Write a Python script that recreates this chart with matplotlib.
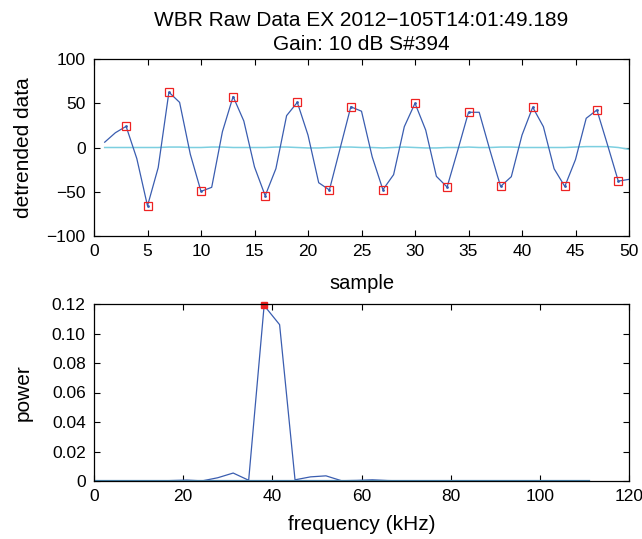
import matplotlib
matplotlib.use("Agg")
import matplotlib.pyplot as plt
import numpy as np

plt.rcParams['font.family'] = ['Liberation Sans', 'DejaVu Sans']

# ---- data ----
samples = list(range(1, 51))
detrended = [6, 16.7, 23.9, -12.5, -66, -22.7, 62.5, 51, -7.6, -49.6,
             -45, 17.8, 57.6, 30, -22, -54.5, -23.9, 36, 51, 14,
             -39.8, -48, -1, 46, 41, -10.6, -47.7, -30.7, 23.5, 50,
             19.7, -32.6, -44.7, -3, 39.8, 39.8, -3, -44, -33, 14,
             45.5, 23.5, -24, -44, -13.6, 33, 42.4, 2.7, -38, -36]
baseline = [0, 0, 0, 0, 0, 0, 0.5, 0.5, 0, 0,
            0.5, 0.5, 0, 0, 0, 0, 0.5, 0.5, 0, -0.5,
            -0.5, 0, 0.5, 0.5, 0, 0, -0.5, 0, 0.5, 0,
            -0.5, -0.5, 0, 0, 0.5, 0, 0, 0.5, 0.5, 0,
            0, 0, 0, 0, 0.5, 1, 1, 1, 0, -2]
peak_samples = [3, 5, 7, 10, 13, 16, 19, 22, 24, 27, 30, 33, 35, 38, 41, 44, 47, 49]

freq_khz = [0.0, 3.47, 6.94, 10.41, 13.88, 17.34, 20.81, 24.28, 27.75, 31.22,
            34.69, 38.16, 41.63, 45.09, 48.56, 52.03, 55.5, 58.97, 62.44, 65.91,
            69.38, 72.84, 76.31, 79.78, 83.25, 86.72, 90.19, 93.66, 97.13, 100.59,
            104.06, 107.53, 111.0]
power = [0, 0, 0, 0, 0, 0.0003, 0.0006, 0.0001, 0.0022, 0.0054,
         0.0005, 0.119, 0.106, 0.0008, 0.0028, 0.0035, 0.0002, 0.0004, 0.0008, 0.0003,
         0.0001, 0.0001, 0.0001, 0.0001, 0.0001, 0.0001, 0.0001, 0.0001, 0.0001, 0.0001,
         0.0001, 0.0001, 0.0001]
noise_power = [0] * len(freq_khz)
peak_freq_index = 11

title_lines = "WBR Raw Data EX 2012\u2212105T14:01:49.189\nGain: 10 dB S#394"

blue = '#3a5db0'
cyan = '#7ccfe0'

fig = plt.figure(figsize=(6.42, 5.39), dpi=100)
ax1 = fig.add_axes([94/642, 1-236/539, 535/642, 177/539])
ax2 = fig.add_axes([94/642, 1-481/539, 535/642, 177/539])

# top
ax1.plot(samples, baseline, color=cyan, lw=1.1)
ax1.plot(samples, detrended, color=blue, lw=0.9)
pidx = [samples.index(s) for s in peak_samples]
px = [samples[i] for i in pidx]
py = [detrended[i] for i in pidx]
ax1.plot(px, py, ls='none', marker='.', ms=2, color=blue)
ax1.plot(px, py, ls='none', marker='s', ms=5.5, mfc='none', mec='#ee2222', mew=0.9)
ax1.set_xlim(0, 50)
ax1.set_ylim(-100, 100)
ax1.set_xticks(range(0, 51, 5))
ax1.set_yticks([-100, -50, 0, 50, 100])
ax1.set_xlabel('sample', fontsize=14.5, labelpad=11)
ax1.set_ylabel('detrended data', fontsize=15)
ax1.set_title(title_lines, fontsize=15, linespacing=1.3, pad=6.5)

# bottom
ax2.plot(freq_khz, power, color=blue, lw=0.9)
ax2.plot(freq_khz, noise_power, color='#4a86b0', lw=1.6)
ax2.plot([freq_khz[peak_freq_index]], [power[peak_freq_index]], ls='none', marker='s',
         ms=5, mfc='#ee2222', mec='#ee2222', clip_on=False)
ax2.set_xlim(0, 120)
ax2.set_ylim(0, 0.12)
ax2.set_xticks(range(0, 121, 20))
ax2.set_yticks([0, 0.02, 0.04, 0.06, 0.08, 0.10, 0.12])
ax2.set_yticklabels(['0', '0.02', '0.04', '0.06', '0.08', '0.10', '0.12'])
ax2.set_xlabel('frequency (kHz)', fontsize=15, labelpad=8)
ax2.set_ylabel('power', fontsize=15)

for ax in (ax1, ax2):
    ax.tick_params(direction='in', top=True, right=True, labelsize=12.5, length=4, width=0.8)
    ax.tick_params(axis='x', pad=5.5)
    ax.tick_params(axis='y', pad=6)
    for s in ax.spines.values():
        s.set_linewidth(0.9)
    ax.yaxis.set_label_coords(-0.114, 0.5)

fig.savefig('out.png', dpi=100)
